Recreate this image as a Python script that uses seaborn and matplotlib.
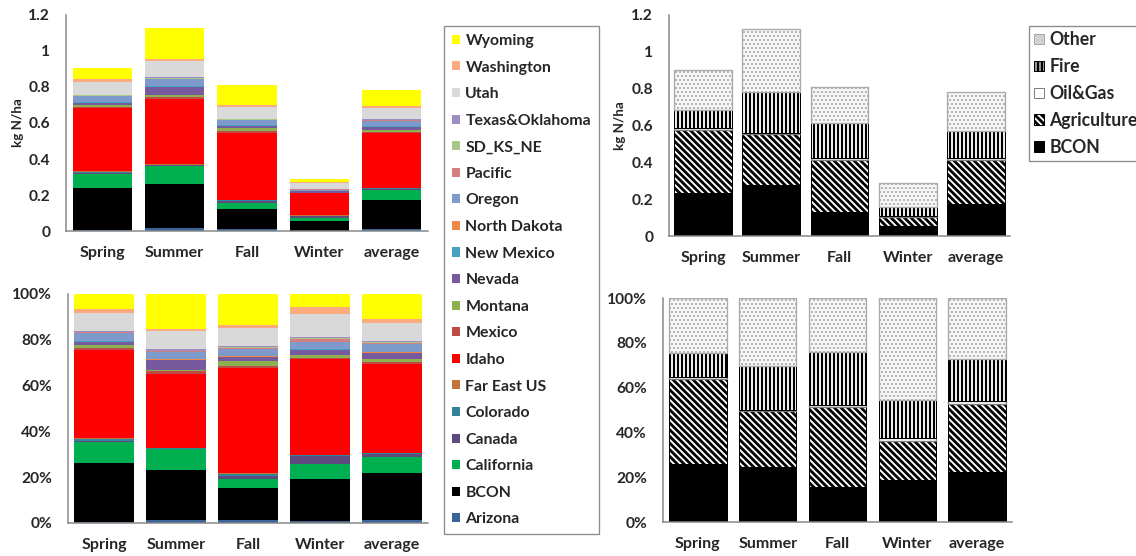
import numpy as np
import matplotlib
matplotlib.use("Agg")
import matplotlib.pyplot as plt
from matplotlib.patches import Patch
from matplotlib.ticker import FuncFormatter
import seaborn as sns

# ---- data (kg N/ha) -------------------------------------------------------
seasons = ["Spring", "Summer", "Fall", "Winter", "average"]

# contributions by source region, listed in stacking order (bottom -> top)
arizona      = [0.003, 0.015, 0.011, 0.002, 0.010]
bcon         = [0.235, 0.246, 0.112, 0.054, 0.161]
california   = [0.080, 0.101, 0.033, 0.019, 0.055]
canada       = [0.007, 0.003, 0.010, 0.010, 0.010]
colorado     = [0.005, 0.002, 0.006, 0.001, 0.002]
far_east_us  = [0.006, 0.003, 0.003, 0.0005, 0.002]
idaho        = [0.348, 0.365, 0.372, 0.122, 0.303]
mexico       = [0.005, 0.012, 0.006, 0.001, 0.008]
montana      = [0.011, 0.007, 0.018, 0.004, 0.009]
nevada       = [0.013, 0.046, 0.014, 0.006, 0.020]
new_mexico   = [0.003, 0.003, 0.003, 0.001, 0.002]
north_dakota = [0.003, 0.002, 0.002, 0.0005, 0.001]
oregon       = [0.030, 0.037, 0.025, 0.009, 0.028]
pacific      = [0.003, 0.003, 0.004, 0.004, 0.004]
sd_ks_ne     = [0.003, 0.003, 0.002, 0.001, 0.002]
texas_ok     = [0.003, 0.009, 0.004, 0.001, 0.004]
utah         = [0.069, 0.089, 0.063, 0.029, 0.063]
washington   = [0.015, 0.009, 0.010, 0.010, 0.012]
wyoming      = [0.061, 0.172, 0.111, 0.016, 0.086]

region_names = ["Arizona", "BCON", "California", "Canada", "Colorado",
                "Far East US", "Idaho", "Mexico", "Montana", "Nevada",
                "New Mexico", "North Dakota", "Oregon", "Pacific",
                "SD_KS_NE", "Texas&Oklahoma", "Utah", "Washington", "Wyoming"]
region_values = [arizona, bcon, california, canada, colorado, far_east_us,
                 idaho, mexico, montana, nevada, new_mexico, north_dakota,
                 oregon, pacific, sd_ks_ne, texas_ok, utah, washington, wyoming]
region_colors = ["#3A6498", "#000000", "#00B050", "#5F4A80", "#31849B",
                 "#C0743A", "#FF0000", "#BE4B48", "#8FB04E", "#775A9E",
                 "#46A3C0", "#EE8A45", "#7E9ACB", "#D47F7F", "#A9C787",
                 "#9E8DC0", "#D9D9D9", "#FAAB7F", "#FFFF00"]

# contributions by source sector (bottom -> top)
sector_bcon        = [0.236, 0.276, 0.128, 0.054, 0.174]
sector_agriculture = [0.341, 0.278, 0.286, 0.050, 0.239]
sector_oil_gas     = [0.010, 0.007, 0.010, 0.005, 0.009]
sector_fire        = [0.097, 0.222, 0.190, 0.048, 0.148]
sector_other       = [0.220, 0.339, 0.195, 0.132, 0.213]

sector_names = ["BCON", "Agriculture", "Oil&Gas", "Fire", "Other"]
sector_values = [sector_bcon, sector_agriculture, sector_oil_gas,
                 sector_fire, sector_other]

# ---- style ----------------------------------------------------------------
sns.set_theme(style="white")
plt.rcParams["font.family"] = ["Lato", "DejaVu Sans"]
plt.rcParams["font.weight"] = "bold"
plt.rcParams["hatch.linewidth"] = 1.7

DPI = 120
W, H = 1136, 556
fig = plt.figure(figsize=(W / DPI, H / DPI), dpi=DPI)

AXIS_GREY = "#878787"
TICK_FS = 9.3
LEGEND_FS = 9.5


def fig_rect(left, right, top, bottom):
    """Axes rectangle from pixel edges."""
    return [left / W, 1 - bottom / H, (right - left) / W, (bottom - top) / H]


def apply_hatch_lw(patches, lw):
    for p in patches:
        if lw is not None and hasattr(p, "set_hatch_linewidth"):
            p.set_hatch_linewidth(lw)


def stacked(ax, layers, width, styles):
    bottom = np.zeros(len(seasons))
    for vals, st in zip(layers, styles):
        vals = np.asarray(vals, dtype=float)
        st = dict(st)
        hatch_lw = st.pop("hatch_lw", None)
        n_before = len(ax.patches)
        sns.barplot(x=seasons, y=vals, bottom=bottom.copy(), width=width,
                    saturation=1, errorbar=None, ax=ax, **st)
        apply_hatch_lw(ax.patches[n_before:], hatch_lw)
        bottom += vals


def style_axes(ax, ylim, yticks, fmt, ylabel=None, label_x=None):
    for s in ("top", "right"):
        ax.spines[s].set_visible(False)
    for s in ("left", "bottom"):
        ax.spines[s].set_color(AXIS_GREY)
        ax.spines[s].set_linewidth(0.9)
    ax.set_ylim(*ylim)
    ax.set_yticks(yticks)
    ax.yaxis.set_major_formatter(FuncFormatter(fmt))
    ax.tick_params(axis="y", which="major", direction="out", length=3,
                   width=0.8, color=AXIS_GREY, pad=6.5, labelsize=TICK_FS)
    ax.set_xlim(-0.5, len(seasons) - 0.5)
    ax.set_xticks(range(len(seasons)))
    ax.set_xticklabels(seasons)
    ax.set_xticks(np.arange(-0.5, len(seasons), 1.0), minor=True)
    ax.tick_params(axis="x", which="major", length=0, pad=9.0,
                   labelsize=TICK_FS + 0.3)
    ax.tick_params(axis="x", which="minor", direction="out", length=3.5,
                   width=0.8, color=AXIS_GREY)
    for lab in ax.get_xticklabels() + ax.get_yticklabels():
        lab.set_fontweight("bold")
    ax.set_xlabel("")
    if ylabel:
        ax.set_ylabel(ylabel, fontsize=8.0, fontweight="bold")
        ax.yaxis.set_label_coords(label_x, 0.5)
    else:
        ax.set_ylabel("")
    ax.grid(False)


num_fmt = lambda v, _: f"{v:g}"
pct_fmt = lambda v, _: f"{v:.0f}%"

region_totals = np.sum(region_values, axis=0)
sector_totals = np.sum(sector_values, axis=0)

# ---- source regions, absolute --------------------------------------------
ax1 = fig.add_axes(fig_rect(66, 428, 15, 231))
region_styles = [dict(color=c, linewidth=0) for c in region_colors]
stacked(ax1, region_values, 0.815, region_styles)
style_axes(ax1, (0, 1.2), np.arange(0, 1.21, 0.2), num_fmt,
           "kg N/ha", (24 - 66) / 362)

# ---- source regions, share -----------------------------------------------
ax2 = fig.add_axes(fig_rect(68, 428, 294, 523))
region_pct = [np.asarray(v) / region_totals * 100 for v in region_values]
stacked(ax2, region_pct, 0.83, region_styles)
style_axes(ax2, (0, 100), np.arange(0, 101, 20), pct_fmt)

# ---- source sectors -------------------------------------------------------
sector_styles = [
    dict(color="#000000", edgecolor="#000000", linewidth=0.6),
    dict(color="#FFFFFF", edgecolor="#000000", hatch="\\" * 6, linewidth=0.6,
         hatch_lw=1.7),
    dict(color="#FFFFFF", edgecolor="#7F7F7F", linewidth=0.8),
    dict(color="#FFFFFF", edgecolor="#000000", hatch="|" * 5, linewidth=0.6,
         hatch_lw=1.3),
    dict(color="#F6F6F6", edgecolor="#AAAAAA", hatch="." * 5, linewidth=0.8,
         hatch_lw=0.8),
]

ax3 = fig.add_axes(fig_rect(669, 1010, 15, 236))
stacked(ax3, sector_values, 0.85, sector_styles)
style_axes(ax3, (0, 1.2), np.arange(0, 1.21, 0.2), num_fmt,
           "kg N/ha", (626 - 669) / 341)

ax4 = fig.add_axes(fig_rect(663, 1012, 298, 522))
sector_pct = [np.asarray(v) / sector_totals * 100 for v in sector_values]
stacked(ax4, sector_pct, 0.82, sector_styles)
style_axes(ax4, (0, 100), np.arange(0, 101, 20), pct_fmt)

# ---- legends ---------------------------------------------------------------
region_handles = [Patch(facecolor=c, edgecolor="none") for c in region_colors]
leg1 = fig.legend(region_handles[::-1], region_names[::-1],
                  loc="upper left", bbox_to_anchor=(444 / W, 1 - 26 / H),
                  borderaxespad=0, frameon=True, fancybox=False,
                  edgecolor="#8C8C8C", framealpha=1,
                  handlelength=0.5, handleheight=0.5, handletextpad=0.35,
                  labelspacing=0.795, borderpad=0.5,
                  prop={"weight": "bold", "size": LEGEND_FS})
leg1.get_frame().set_linewidth(0.8)

sector_handles = []
for st in sector_styles:
    h = Patch(facecolor=st["color"], edgecolor=st["edgecolor"],
              hatch=st.get("hatch"), linewidth=0.6)
    apply_hatch_lw([h], st.get("hatch_lw"))
    sector_handles.append(h)
leg2 = fig.legend(sector_handles[::-1], sector_names[::-1],
                  loc="upper left", bbox_to_anchor=(1029 / W, 1 - 26 / H),
                  borderaxespad=0, frameon=True, fancybox=False,
                  edgecolor="#8C8C8C", framealpha=1,
                  handlelength=0.55, handleheight=0.55, handletextpad=0.3,
                  labelspacing=0.56, borderpad=0.3,
                  prop={"weight": "bold", "size": 10.6})
leg2.get_frame().set_linewidth(0.8)

fig.savefig("out.png", dpi=DPI)
